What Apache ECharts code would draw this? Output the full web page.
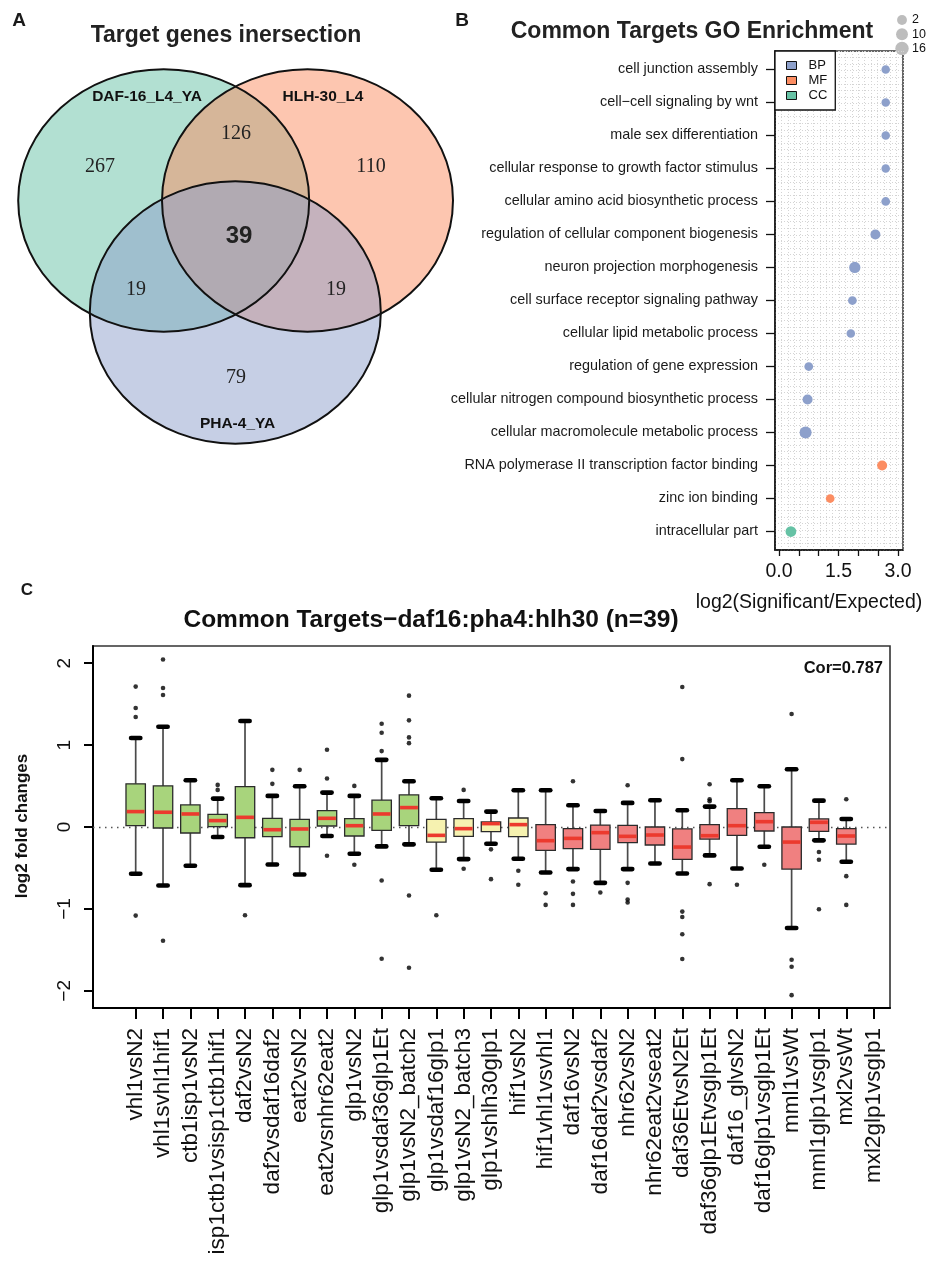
<!DOCTYPE html>
<html>
<head>
<meta charset="utf-8">
<script src="https://cdn.jsdelivr.net/npm/echarts@6/dist/echarts.min.js"></script>
<style>
  html, body { margin: 0; padding: 0; background: #fff; }
  #main { width: 930px; height: 1284px; }
</style>
</head>
<body>
<div id="main"></div>
<script>
// ---------- Panel A: target gene overlap ----------
const vennSets = ['DAF-16_L4_YA', 'HLH-30_L4', 'PHA-4_YA'];
// region counts: only DAF, DAF&HLH, only HLH, all three, DAF&PHA, HLH&PHA, only PHA
const vennCounts = [267, 126, 110, 39, 19, 19, 79];

// ---------- Panel B: GO enrichment ----------
const goTerms = [
  'cell junction assembly',
  'cell\u2212cell signaling by wnt',
  'male sex differentiation',
  'cellular response to growth factor stimulus',
  'cellular amino acid biosynthetic process',
  'regulation of cellular component biogenesis',
  'neuron projection morphogenesis',
  'cell surface receptor signaling pathway',
  'cellular lipid metabolic process',
  'regulation of gene expression',
  'cellular nitrogen compound biosynthetic process',
  'cellular macromolecule metabolic process',
  'RNA polymerase II transcription factor binding',
  'zinc ion binding',
  'intracellular part'
];
const goRatio = [2.69, 2.69, 2.69, 2.69, 2.69, 2.43, 1.91, 1.85, 1.81, 0.75, 0.72, 0.67, 2.60, 1.29, 0.30];
const goCount = [2, 2, 2, 2, 3, 8, 13, 3, 2, 3, 8, 16, 8, 3, 11];
const goOntology = ['BP','BP','BP','BP','BP','BP','BP','BP','BP','BP','BP','BP','MF','MF','CC'];
const ontologies = ['BP', 'MF', 'CC'];
const sizeLegendCounts = [2, 10, 16];
const goXTicks = [0, 0.5, 1, 1.5, 2, 2.5, 3];
const goXLabels = [0, 1.5, 3];

// ---------- Panel C: fold changes of the 39 common targets ----------
const comparisons = [
  'vhl1vsN2', 'vhl1svhl1hif1', 'ctb1isp1vsN2', 'isp1ctb1vsisp1ctb1hif1', 'daf2vsN2',
  'daf2vsdaf16daf2', 'eat2vsN2', 'eat2vsnhr62eat2', 'glp1vsN2', 'glp1vsdaf36glp1Et',
  'glp1vsN2_batch2', 'glp1vsdaf16glp1', 'glp1vsN2_batch3', 'glp1vshlh30glp1', 'hif1vsN2',
  'hif1vhl1vsvhl1', 'daf16vsN2', 'daf16daf2vsdaf2', 'nhr62vsN2', 'nhr62eat2vseat2',
  'daf36EtvsN2Et', 'daf36glp1Etvsglp1Et', 'daf16_glvsN2', 'daf16glp1vsglp1Et', 'mml1vsWt',
  'mml1glp1vsglp1', 'mxl2vsWt', 'mxl2glp1vsglp1'
];
const boxLower  = [-0.571,-0.714,-0.473,-0.122,-0.710,-0.457,-0.580,-0.110,-0.327,-0.237,-0.212,-0.522,-0.392,-0.204,-0.388,-0.555,-0.514,-0.682,-0.514,-0.445,-0.567,-0.347,-0.506,-0.241,-1.233,-0.163,-0.424];
const boxQ1     = [ 0.016,-0.012,-0.073, 0.004,-0.131,-0.118,-0.241, 0.012,-0.110,-0.041, 0.016,-0.184,-0.114,-0.057,-0.118,-0.286,-0.265,-0.273,-0.192,-0.220,-0.396,-0.147,-0.102,-0.049,-0.514,-0.053,-0.208];
const boxMedian = [ 0.188, 0.180, 0.159, 0.078, 0.118,-0.033,-0.024, 0.106, 0.016, 0.159, 0.237,-0.102,-0.020, 0.041, 0.029,-0.167,-0.139,-0.069,-0.114,-0.098,-0.245,-0.106, 0.016, 0.065,-0.184, 0.057,-0.110];
const boxQ3     = [ 0.527, 0.502, 0.269, 0.155, 0.494, 0.106, 0.094, 0.200, 0.102, 0.327, 0.392, 0.094, 0.102, 0.061, 0.110, 0.029,-0.020, 0.024, 0.020, 0.000,-0.024, 0.029, 0.224, 0.176, 0.000, 0.098,-0.020];
const boxUpper  = [ 1.086, 1.224, 0.571, 0.347, 1.294, 0.380, 0.498, 0.420, 0.380, 0.820, 0.559, 0.351, 0.318, 0.188, 0.449, 0.449, 0.265, 0.196, 0.294, 0.327, 0.204, 0.249, 0.571, 0.498, 0.706, 0.322, 0.098];
const boxOutliers = [
  [1.714, 1.453, 1.343, -1.082], [2.045, 1.698, 1.612, -1.388], [], [0.514, 0.453], [-1.078],
  [0.698, 0.527], [0.698], [0.943, 0.592, -0.351], [0.502, -0.461], [1.261, 1.151, 0.927, -0.653, -1.608],
  [1.604, 1.302, 1.094, 1.024, -0.837, -1.718], [-1.078], [0.453, -0.510], [-0.273, -0.637], [-0.535, -0.706],
  [-0.808, -0.951], [0.559, -0.665, -0.816, -0.951], [-0.800], [0.510, -0.682, -0.886, -0.922], [],
  [1.710, 0.829, -1.033, -1.098, -1.310, -1.612], [0.522, 0.339, 0.314, -0.698], [-0.706], [-0.461], [1.380, -1.620, -1.706, -2.053],
  [-0.306, -0.400, -1.004], [0.339, -0.600, -0.951]
];
const boxGroups = ['g','g','g','g','g','g','g','g','g','g','g','y','y','y','y','r','r','r','r','r','r','r','r','r','r','r','r'];
const correlation = 0.787;
const yTicksC = [-2, -1, 0, 1, 2];

// ---------- styles ----------
const SANS = 'Liberation Sans, Arial, Helvetica, sans-serif';
const SERIF = 'Liberation Serif, Times New Roman, serif';
const ontologyColor = { BP: '#8DA0CB', MF: '#FC8D62', CC: '#66C2A5' };
const vennColors = ['#66C2A5', '#FC8D62', '#8DA0CB'];
const boxFill = { g: '#A8D47C', y: '#F6F2B0', r: '#F08080' };
const dotDiameter = c => 8 + 0.25 * c;

const chart = echarts.init(document.getElementById('main'), null, { renderer: 'canvas' });

// Venn layout
const ellipses = [
  { cx: 163.7, cy: 200.5 },
  { cx: 307.5, cy: 200.5 },
  { cx: 235.3, cy: 312.5 }
];
const RX = 145.5, RY = 131.2;
const vennTextPos = [[100, 167], [236, 134], [371, 167], [239, 236], [136, 290], [336, 290], [236, 378]];
const vennLabelPos = [[147, 97], [323, 97], [237.5, 424]];

function txt(x, y, text, font, extra) {
  return {
    type: 'text', x: x, y: y, silent: true,
    style: Object.assign({
      text: text, font: font, fill: '#1a1a1a',
      textAlign: 'center', textVerticalAlign: 'middle',
      align: 'center', verticalAlign: 'middle'
    }, extra || {})
  };
}

const graphics = [];
// panel letters and titles
graphics.push(txt(19, 21, 'A', 'bold 19px ' + SANS));
graphics.push(txt(462, 21, 'B', 'bold 19px ' + SANS));
graphics.push(txt(27, 590, 'C', 'bold 17px ' + SANS));
graphics.push(txt(226, 36, 'Target genes inersection', 'bold 23px ' + SANS, { fill: '#222' }));
graphics.push(txt(692, 32, 'Common Targets GO Enrichment', 'bold 23px ' + SANS, { fill: '#222' }));
graphics.push(txt(431, 620, 'Common Targets\u2212daf16:pha4:hlh30 (n=39)', 'bold 24.5px ' + SANS, { fill: '#111' }));

// Venn fills, outlines and counts
ellipses.forEach((e, i) => {
  graphics.push({ type: 'ellipse', silent: true, shape: { cx: e.cx, cy: e.cy, rx: RX, ry: RY },
    style: { fill: vennColors[i], opacity: 0.5 } });
});
ellipses.forEach(e => {
  graphics.push({ type: 'ellipse', silent: true, shape: { cx: e.cx, cy: e.cy, rx: RX, ry: RY },
    style: { fill: null, stroke: '#111', lineWidth: 2 } });
});
vennCounts.forEach((c, i) => {
  const bold = i === 3;
  graphics.push(txt(vennTextPos[i][0], vennTextPos[i][1], String(c),
    bold ? 'bold 24px ' + SANS : '20px ' + SERIF, { fill: '#222' }));
});
vennSets.forEach((s, i) => {
  graphics.push(txt(vennLabelPos[i][0], vennLabelPos[i][1], s, 'bold 15.5px ' + SANS, { fill: '#111' }));
});

// GO size key
sizeLegendCounts.forEach((c, i) => {
  const y = 20 + i * 14.2;
  graphics.push({ type: 'circle', silent: true, shape: { cx: 902, cy: y, r: dotDiameter(c) / 2 + 0.7 },
    style: { fill: '#BDBDBD' } });
  graphics.push(txt(912, y, String(c), '12.5px ' + SANS, { textAlign: 'left', align: 'left', fill: '#111' }));
});
graphics.push(txt(809, 603, 'log2(Significant/Expected)', '19.5px ' + SANS, { fill: '#111' }));

// Panel C annotations
const yTitle = txt(22, 826, 'log2 fold changes', 'bold 17px ' + SANS, { fill: '#111' });
yTitle.rotation = Math.PI / 2;
graphics.push(yTitle);
graphics.push(txt(883, 668, 'Cor=' + correlation, 'bold 16.5px ' + SANS,
  { textAlign: 'right', align: 'right', fill: '#111' }));

// GO dot series, one per ontology
const goSeries = ontologies.map(o => ({
  name: o,
  type: 'scatter',
  xAxisIndex: 0, yAxisIndex: 0,
  itemStyle: { color: ontologyColor[o], opacity: 1 },
  symbolSize: d => dotDiameter(d[2]),
  data: goTerms.map((t, i) => goOntology[i] === o ? [goRatio[i], i + 1, goCount[i]] : null).filter(Boolean),
  z: 5
}));

// box plot data
const boxData = boxMedian.map((m, i) => [i, boxLower[i], boxQ1[i], m, boxQ3[i], boxUpper[i]]);
const outlierData = [];
boxOutliers.forEach((arr, i) => arr.forEach(v => outlierData.push([i, v])));

const xIdx = comparisons.map((_, i) => i);

const option = {
  animation: false,
  textStyle: { fontFamily: SANS },
  legend: {
    data: ontologies,
    orient: 'vertical',
    left: 775, top: 51,
    padding: [7, 8, 7, 11],
    itemGap: 0,
    itemWidth: 10, itemHeight: 8,
    icon: 'rect',
    itemStyle: { borderColor: '#111', borderWidth: 1 },
    textStyle: { fontSize: 13, color: '#111', lineHeight: 15, padding: [0, 0, 0, 7] },
    backgroundColor: '#fff',
    borderColor: '#111', borderWidth: 1.3, borderRadius: 0,
    selectedMode: false,
    z: 10
  },
  grid: [
    { left: 775, top: 51, width: 128, height: 499, show: true, borderColor: '#333', borderWidth: 1.5, backgroundColor: '#fff' },
    { left: 93, top: 646, width: 797, height: 362, show: true, borderColor: '#333', borderWidth: 1.6 }
  ],
  xAxis: [
    {
      gridIndex: 0, type: 'value', min: -0.101, max: 3.126,
      axisLine: { show: true, onZero: false, lineStyle: { color: '#111', width: 1.5 } },
      axisTick: { show: true, inside: false, length: 6, customValues: goXTicks, lineStyle: { color: '#111', width: 1.3 } },
      axisLabel: { show: true, customValues: goXLabels, formatter: v => Number(v).toFixed(1), fontSize: 19.5, color: '#111', margin: 12 },
      splitLine: { show: false }
    },
    {
      gridIndex: 0, type: 'value', min: 0, max: 20, interval: 1, position: 'top',
      axisLine: { show: false }, axisTick: { show: false }, axisLabel: { show: false },
      splitLine: { show: true, lineStyle: { color: '#D4D4D4', width: 1, type: [1, 2] } }
    },
    {
      gridIndex: 1, type: 'value', min: -1.562, max: 27.6,
      axisLine: { show: true, onZero: false, lineStyle: { color: '#000', width: 2 } },
      axisTick: { show: true, inside: false, length: 11, customValues: xIdx, lineStyle: { color: '#000', width: 2 } },
      axisLabel: { show: true, customValues: xIdx, interval: 0, rotate: 90, formatter: v => comparisons[Math.round(v)] || '', fontSize: 22.5, color: '#111', margin: 20 },
      splitLine: { show: false }
    }
  ],
  yAxis: [
    {
      gridIndex: 0, type: 'value', inverse: true, min: 0.44, max: 15.56,
      axisLine: { show: true, onZero: false, lineStyle: { color: '#111', width: 1.5 } },
      axisTick: { show: true, inside: false, length: 9, customValues: goTerms.map((_, i) => i + 1), lineStyle: { color: '#111', width: 1.3 } },
      axisLabel: { show: true, customValues: goTerms.map((_, i) => i + 1), formatter: v => goTerms[Math.round(v) - 1] || '', fontSize: 14.4, color: '#1a1a1a', margin: 17 },
      splitLine: { show: false }
    },
    {
      gridIndex: 0, type: 'value', min: 0, max: 76, interval: 1, position: 'right',
      axisLine: { show: false }, axisTick: { show: false }, axisLabel: { show: false },
      splitLine: { show: true, lineStyle: { color: '#D4D4D4', width: 1, type: [1, 2] } }
    },
    {
      gridIndex: 1, type: 'value', min: -2.21, max: 2.21,
      axisLine: { show: true, onZero: false, lineStyle: { color: '#000', width: 2 } },
      axisTick: { show: true, inside: false, length: 9, customValues: yTicksC, lineStyle: { color: '#000', width: 2 } },
      axisLabel: { show: true, customValues: yTicksC, rotate: 90, formatter: v => (v < 0 ? '\u2212' + Math.abs(v) : String(v)), fontSize: 19, color: '#111', margin: 19 },
      splitLine: { show: false }
    }
  ],
  graphic: { elements: graphics },
  series: goSeries.concat([
    {
      name: 'box',
      type: 'custom',
      xAxisIndex: 2, yAxisIndex: 2,
      clip: false,
      data: boxData,
      renderItem: function (params, api) {
        const x = api.value(0);
        const lo = api.coord([x, api.value(1)]);
        const q1 = api.coord([x, api.value(2)]);
        const md = api.coord([x, api.value(3)]);
        const q3 = api.coord([x, api.value(4)]);
        const hi = api.coord([x, api.value(5)]);
        const step = api.size([1, 0])[0];
        const bw = step * 0.71;
        const cw = step * 0.34;
        const cx = lo[0];
        const fill = boxFill[boxGroups[params.dataIndex]];
        const whisker = { stroke: '#4a4a4a', lineWidth: 1.7 };
        const cap = { stroke: '#000', lineWidth: 4.6, lineCap: 'round' };
        return {
          type: 'group',
          children: [
            { type: 'line', shape: { x1: cx, y1: hi[1], x2: cx, y2: q3[1] }, style: whisker },
            { type: 'line', shape: { x1: cx, y1: q1[1], x2: cx, y2: lo[1] }, style: whisker },
            { type: 'rect', shape: { x: cx - bw / 2, y: q3[1], width: bw, height: q1[1] - q3[1] },
              style: { fill: fill, stroke: '#2b2b2b', lineWidth: 1.3 } },
            { type: 'line', shape: { x1: cx - bw / 2 + 0.8, y1: md[1], x2: cx + bw / 2 - 0.8, y2: md[1] },
              style: { stroke: '#EC3A2E', lineWidth: 3.6 } },
            { type: 'line', shape: { x1: cx - cw / 2, y1: hi[1], x2: cx + cw / 2, y2: hi[1] }, style: cap },
            { type: 'line', shape: { x1: cx - cw / 2, y1: lo[1], x2: cx + cw / 2, y2: lo[1] }, style: cap }
          ]
        };
      },
      z: 3
    },
    {
      name: 'outliers',
      type: 'scatter',
      xAxisIndex: 2, yAxisIndex: 2,
      symbol: 'circle', symbolSize: 4.6,
      itemStyle: { color: '#000' },
      data: outlierData,
      z: 4,
      markLine: {
        silent: true, symbol: ['none', 'none'],
        label: { show: false },
        lineStyle: { color: '#555', width: 1.3, type: [1.5, 4.5] },
        data: [{ yAxis: 0 }],
        z: 1
      }
    }
  ])
};

chart.setOption(option);
</script>
</body>
</html>
